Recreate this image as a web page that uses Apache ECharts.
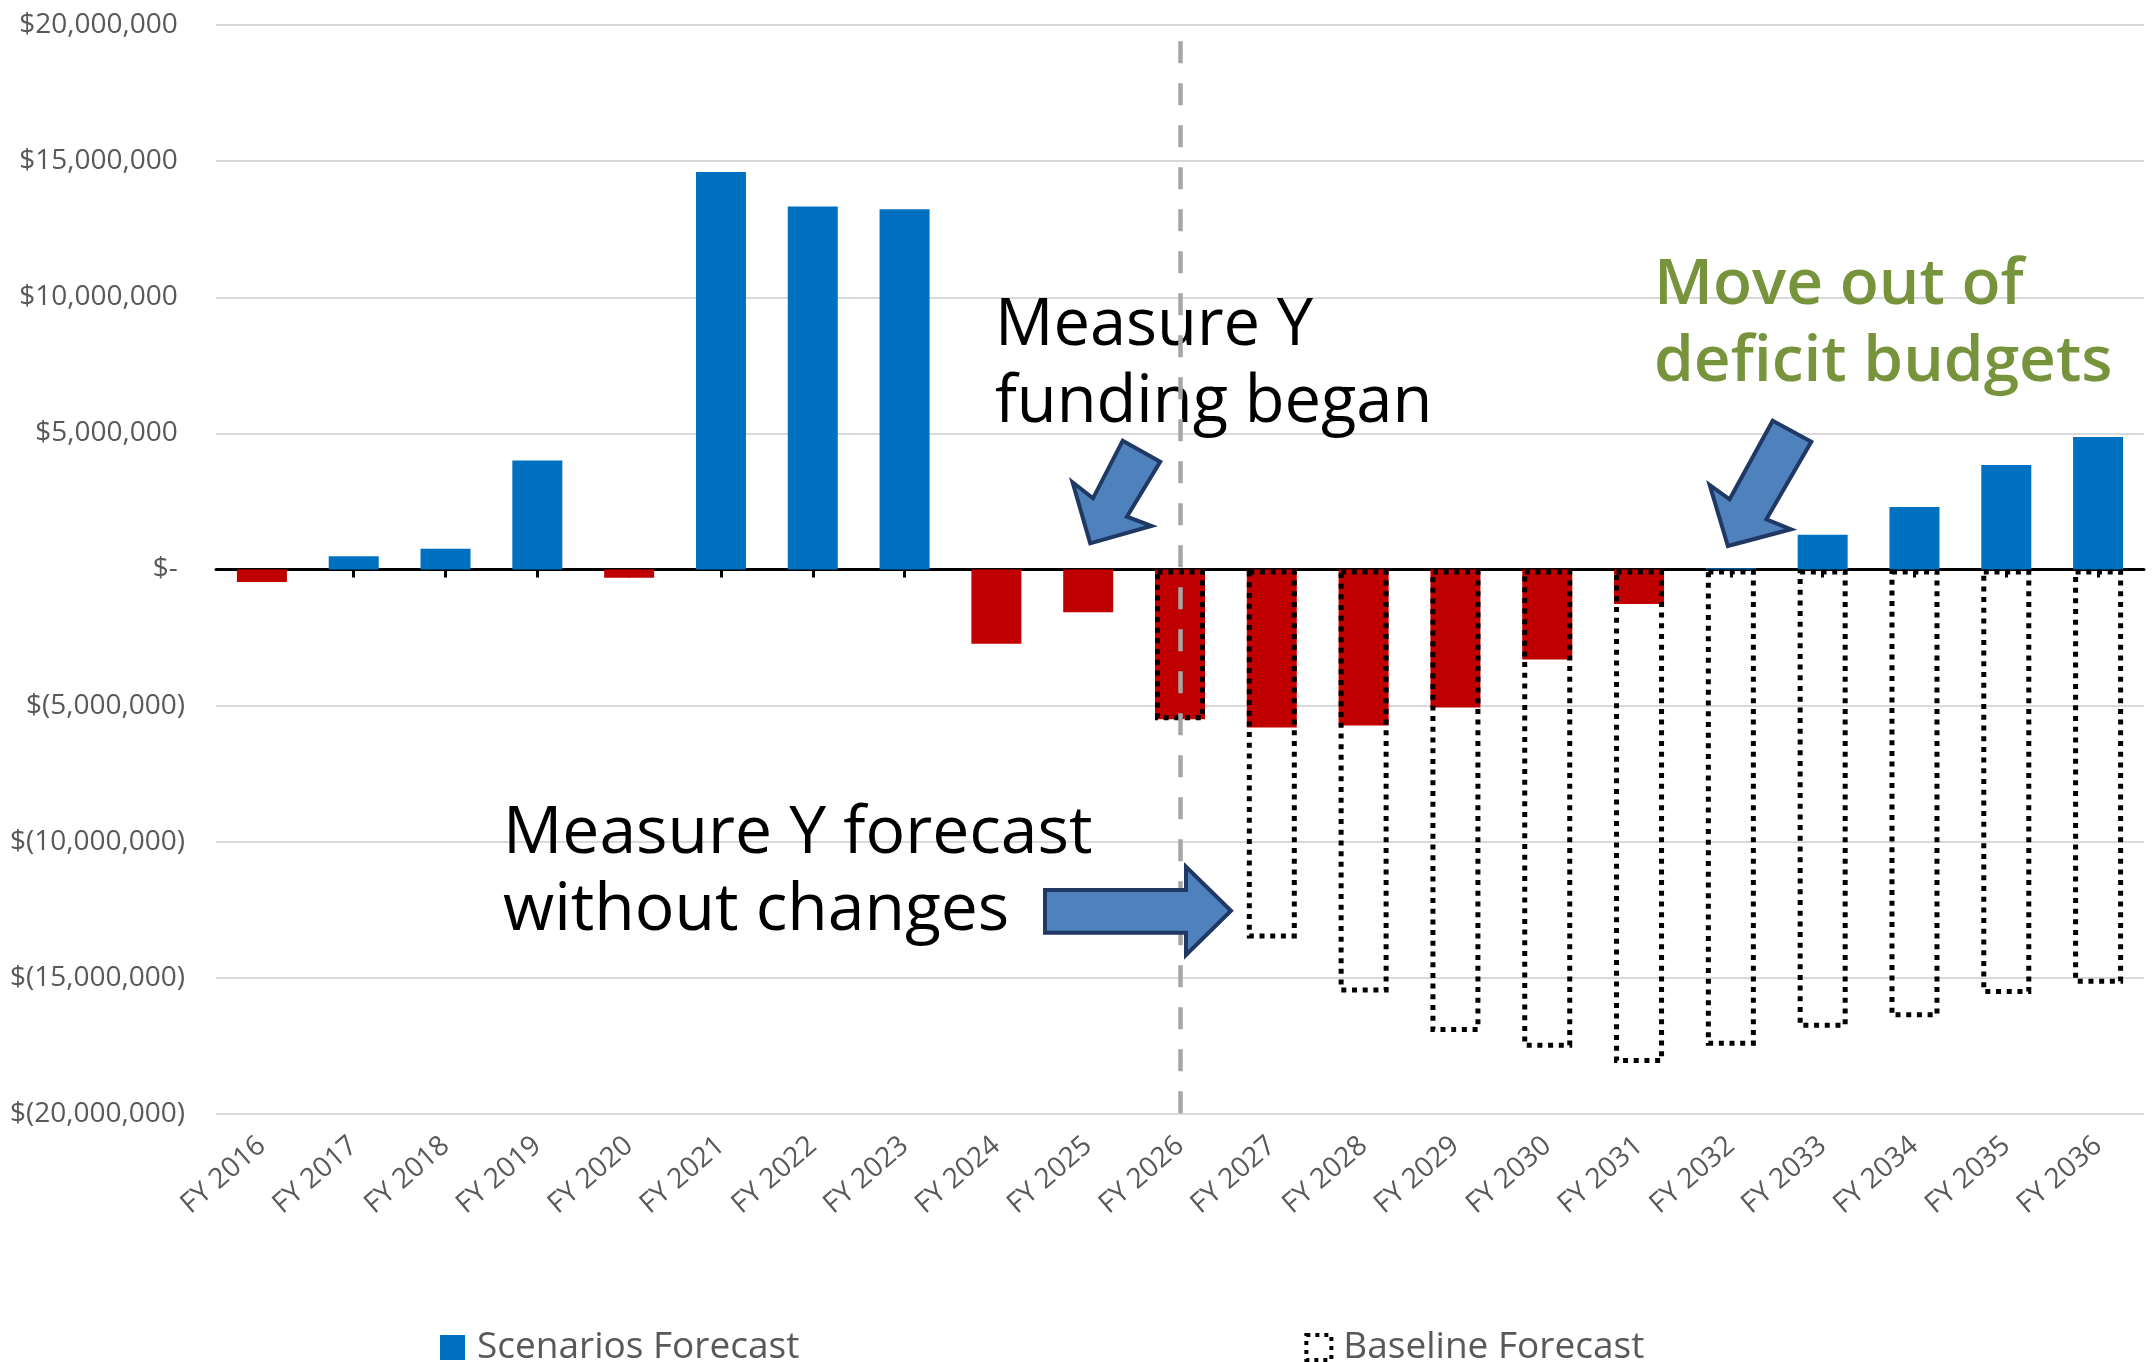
<!DOCTYPE html>
<html>
<head>
<meta charset="utf-8">
<script src="https://cdn.jsdelivr.net/npm/echarts@6/dist/echarts.min.js"></script>
<style>html,body{margin:0;padding:0;background:#fff}#c{width:2152px;height:1362px}</style>
</head>
<body>
<div id="c"></div>
<script>
// ---------- data ----------
const categories = ['FY 2016','FY 2017','FY 2018','FY 2019','FY 2020','FY 2021','FY 2022','FY 2023','FY 2024','FY 2025','FY 2026','FY 2027','FY 2028','FY 2029','FY 2030','FY 2031','FY 2032','FY 2033','FY 2034','FY 2035','FY 2036'];
const scenariosForecast = [-460000, 490000, 760000, 4000000, -300000, 14600000, 13330000, 13230000, -2730000, -1570000, -5500000, -5800000, -5730000, -5070000, -3310000, -1270000, 50000, 1280000, 2300000, 3840000, 4870000];
const baselineForecast = [null, null, null, null, null, null, null, null, null, null, -5540000, -13550000, -15540000, -16990000, -17570000, -18130000, -17490000, -16830000, -16450000, -15590000, -15220000];
const yTickLabels = ['$(20,000,000)','$(15,000,000)','$(10,000,000)','$(5,000,000)','$- ','$5,000,000 ','$10,000,000 ','$15,000,000 ','$20,000,000 '];
const seriesNames = ['Scenarios Forecast', 'Baseline Forecast'];
const dividerCategory = 'FY 2026';
const dividerRange = [19400000, -20000000];
const noteFunding = 'Measure Y\nfunding began';
const noteForecast = 'Measure Y forecast\nwithout changes';
const noteDeficit = 'Move out of\ndeficit budgets';

// ---------- styles ----------
const POS = '#0070C0', NEG = '#C00000';
const FONT = '"Open Sans", "Noto Sans", sans-serif';
const Y_MIN = -20000000, Y_MAX = 20000000, Y_STEP = 5000000;

const chart = echarts.init(document.getElementById('c'), null, {renderer: 'canvas'});
chart.setOption({
  animation: false,
  backgroundColor: '#ffffff',
  grid: {left: 216, right: 8, top: 25, bottom: 248, containLabel: false},
  legend: {
    left: 440, top: 1329, padding: 0,
    itemGap: 505, itemWidth: 25, itemHeight: 25,
    selectedMode: false,
    textStyle: {fontFamily: FONT, fontSize: 37, color: '#595959', padding: [0, 0, 0, 7]},
    data: [
      {name: seriesNames[0], icon: 'rect', itemStyle: {color: POS, borderWidth: 0}},
      {name: seriesNames[1], icon: 'rect', itemStyle: {color: '#ffffff', borderColor: '#000', borderWidth: 4, borderType: [4, 5]}}
    ]
  },
  xAxis: [
    {
      type: 'category', data: categories, position: 'bottom',
      axisLine: {onZero: true, lineStyle: {color: '#000', width: 3}},
      axisTick: {show: true, alignWithLabel: true, length: 8, lineStyle: {color: '#000', width: 3}},
      axisLabel: {show: false}, splitLine: {show: false}
    },
    {
      type: 'category', data: categories, position: 'bottom',
      axisLine: {show: false, onZero: false}, axisTick: {show: false},
      axisLabel: {interval: 0, rotate: 41, margin: 28, fontFamily: FONT, fontSize: 28, color: '#595959'},
      splitLine: {show: false}
    }
  ],
  yAxis: {
    type: 'value', min: Y_MIN, max: Y_MAX, interval: Y_STEP,
    axisLine: {show: false}, axisTick: {show: false},
    splitLine: {lineStyle: {color: '#D9D9D9', width: 2}},
    axisLabel: {
      margin: 31, fontFamily: FONT, fontSize: 28, color: '#595959',
      formatter: v => yTickLabels[Math.round((v - Y_MIN) / Y_STEP)]
    }
  },
  series: [
    {
      name: seriesNames[0], type: 'bar', xAxisIndex: 0, data: scenariosForecast,
      barWidth: 50, barGap: '-100%', z: 2,
      itemStyle: {color: p => (p.value < 0 ? NEG : POS)}
    },
    {
      name: seriesNames[1], type: 'bar', xAxisIndex: 0, data: baselineForecast,
      barWidth: 50, barGap: '-100%', z: 3,
      itemStyle: {color: 'rgba(0,0,0,0)', borderColor: '#000', borderWidth: 5, borderType: [5, 5.7]},
      markLine: {
        silent: true, symbol: 'none', label: {show: false},
        lineStyle: {color: '#A6A6A6', width: 4.5, type: [22, 20]},
        data: [[{coord: [dividerCategory, dividerRange[0]]}, {coord: [dividerCategory, dividerRange[1]]}]]
      }
    }
  ],
  graphic: [
    {type: 'text', x: 995, y: 288, z: 1, style: {text: noteFunding, fontFamily: FONT, fontSize: 65, lineHeight: 77, fill: '#000'}},
    {type: 'text', x: 503, y: 796, z: 1, style: {text: noteForecast, fontFamily: FONT, fontSize: 66, lineHeight: 77, fill: '#000'}},
    {type: 'text', x: 1654, y: 247, z: 1, style: {text: noteDeficit, fontFamily: FONT, fontSize: 64, fontWeight: 600, lineHeight: 77, fill: '#77933C'}},
    {type: 'polygon', z: 100, shape: {points: [[1122.7,440.7],[1160.2,461.7],[1126.9,516.7],[1151.5,526],[1090.2,543.3],[1072.6,482.3],[1093,498.3]]},
      style: {fill: '#4F81BD', stroke: '#1F3864', lineWidth: 4, lineJoin: 'miter'}},
    {type: 'polygon', z: 100, shape: {points: [[1772.7,420.7],[1811.3,441.7],[1766.4,519.3],[1791,529.3],[1727.9,546],[1709.7,485],[1729.6,499.3]]},
      style: {fill: '#4F81BD', stroke: '#1F3864', lineWidth: 4, lineJoin: 'miter'}},
    {type: 'polygon', z: 100, shape: {points: [[1045,890],[1186,890],[1186,866.7],[1231,910.7],[1186,955],[1186,932.7],[1045,932.7]]},
      style: {fill: '#4F81BD', stroke: '#1F3864', lineWidth: 4, lineJoin: 'miter'}}
  ]
});
</script>
</body>
</html>
